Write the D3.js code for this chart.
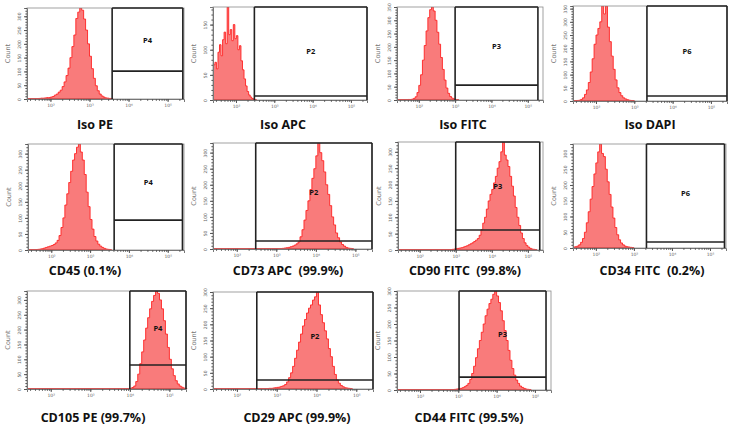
<!DOCTYPE html>
<html><head><meta charset="utf-8">
<script src="https://cdn.jsdelivr.net/npm/d3@7"></script>
<style>body{margin:0;background:#fff;} svg{display:block;}</style>
</head><body><svg id="c" width="732" height="430"></svg>
<script>
// ---------- data ----------
const titles = ["Iso PE","Iso APC","Iso FITC","Iso DAPI","CD45 (0.1%)","CD73 APC  (99.9%)","CD90 FITC  (99.8%)","CD34 FITC  (0.2%)","CD105 PE (99.7%)","CD29 APC (99.9%)","CD44 FITC (99.5%)"];
const gateNames = ["P4","P2","P3","P6","P4","P2","P3","P6","P4","P2","P3"];
const yMax = [330,185,350,360,330,330,330,330,330,300,300];
const gateStart = [3.58,2.48,3.0,3.33,3.62,2.48,3.0,3.33,4.0,2.5,3.02];   // log10 fluorescence
const gateEnd   = [5.39,5.42,5.28,5.42,5.38,5.42,5.33,5.38,5.42,5.42,5.29];
const gateLevel = [101,8,56,19,93,25,61,19,81,28,39];                    // counts
const decadeValues = [2,3,4,5];
const decadeLabels = ["10²","10³","10⁴","10⁵"];
const xDomain = [1.4,5.42];
const histStart = [1.70,1.41,1.70,1.50,1.55,3.15,2.90,1.40,3.95,2.80,2.90];
const histStep  = [0.05,0.04,0.05,0.05,0.05,0.05,0.05,0.05,0.05,0.05,0.05];
const hIsoPE   = [2,3,3,4,5,5,7,9,14,18,25,32,45,62,85,112,150,190,232,292,315,330,322,290,250,200,155,110,75,48,30,18,11,7,4,3,2,1];
const hIsoAPC  = [70,75,62,95,110,88,120,135,112,185,130,140,118,150,122,128,100,108,78,60,42,28,17,10,6,3,2,1];
const hIsoFITC = [2,2,3,6,12,28,55,95,150,205,260,310,340,350,335,300,255,210,160,115,75,45,25,13,7,4,2,1];
const hIsoDAPI = [2,3,6,12,25,42,70,110,160,215,250,275,300,360,330,360,280,225,170,120,80,50,32,20,12,8,5,3,2,1];
const hCD45    = [1,1,2,3,4,6,8,10,12,14,17,22,30,45,70,100,140,175,210,245,280,300,320,330,305,280,235,180,135,95,65,42,28,18,12,8,5,3,2,1];
const hCD73    = [2,3,4,5,7,9,12,16,22,38,60,90,120,150,185,220,250,290,330,300,275,240,200,170,135,100,75,50,35,22,14,9,5,3,2,1];
const hCD90    = [2,3,4,5,6,7,9,11,13,16,19,22,26,30,35,45,62,82,100,125,150,170,185,205,225,250,270,300,330,290,275,255,225,195,165,130,100,75,52,35,22,14,9,5,3,2,1];
const hCD34    = [3,4,6,10,18,30,50,80,115,155,195,235,270,305,330,300,290,250,210,170,130,95,65,42,26,16,10,6,4,3,2,1];
const hCD105   = [1,2,5,10,25,50,85,125,165,205,240,270,295,315,330,322,300,270,230,185,140,100,68,45,28,17,10,6,3,2];
const hCD29    = [2,2,3,4,5,6,8,10,14,22,35,50,70,95,120,145,170,195,215,235,250,260,275,285,300,260,230,205,180,155,125,100,70,45,28,18,11,7,4,3,2,1];
const hCD44    = [2,3,4,5,7,10,14,20,32,50,72,98,125,150,175,200,225,245,262,275,290,300,285,265,240,210,180,150,120,90,65,45,30,20,12,8,5,3,2,1];
const hists = [hIsoPE,hIsoAPC,hIsoFITC,hIsoDAPI,hCD45,hCD73,hCD90,hCD34,hCD105,hCD29,hCD44];

// ---------- layout ----------
const frames = [
 [27,184,8,99],[213,367,7,100],[397,543,7,100],[573,727,6,101],
 [28,184,144,250],[213,372,143,249],[398,543,142,250],[573,726,144,248],
 [27,186,291,389],[213,373,292,389],[397,551,291,390]];
const titlePos = [[95,125],[283,125],[463,125],[650,125],[85,271],[288,271],[465,271],[652,271],[93,418],[297,418],[469,418]];

const svg = d3.select("#c");
const minorLog = [];
for (let d=1; d<=5; d++) for (let k=1; k<=9; k++){ const v=Math.log10(k*Math.pow(10,d)); if (v>=xDomain[0] && v<=xDomain[1]) minorLog.push(v); }

hists.forEach((h,i)=>{
  const [x0,x1,y0,y1] = frames[i];
  const x = d3.scaleLinear().domain(xDomain).range([x0,x1]);
  const y = d3.scaleLinear().domain([0,yMax[i]]).range([y1,y0]);
  const g = svg.append("g");
  const cid = "clip"+i;
  svg.append("clipPath").attr("id",cid).append("rect")
     .attr("x",x0).attr("y",y0).attr("width",x1-x0).attr("height",y1-y0);

  const st = histStep[i];
  const pts = h.map((v,k)=>({lx:histStart[i]+k*st, v}));
  pts.push({lx:histStart[i]+h.length*st, v:0});
  const area = d3.area().x(d=>x(d.lx)).y0(y(0)).y1(d=>y(Math.min(d.v,yMax[i]))).curve(d3.curveStepAfter);
  const line = d3.line().x(d=>x(d.lx)).y(d=>y(Math.min(d.v,yMax[i]))).curve(d3.curveStepAfter);
  const hg = g.append("g").attr("clip-path","url(#"+cid+")");
  hg.append("path").datum(pts).attr("d",area).attr("fill","#f97b7b");
  hg.append("path").datum(pts).attr("d",line).attr("fill","none").attr("stroke","#ff2222").attr("stroke-width",0.9);
  // low-count tail along baseline
  g.append("line").attr("x1",x(xDomain[0])).attr("x2",x(histStart[i]+h.length*st))
    .attr("y1",y(0)-0.5).attr("y2",y(0)-0.5).attr("stroke","#ff3333").attr("stroke-width",1);

  // frame
  g.append("rect").attr("x",x0).attr("y",y0).attr("width",x1-x0).attr("height",y1-y0)
    .attr("fill","none").attr("stroke","#8a8a8a").attr("stroke-width",0.8);

  // axes
  const fontStyle = sel => sel.selectAll("text").attr("font-family","DejaVu Sans").attr("font-size",4.5).attr("fill","#666");
  const ax = g.append("g").attr("transform",`translate(0,${y1})`)
    .call(d3.axisBottom(x).tickValues(decadeValues).tickFormat((d,k)=>decadeLabels[k]).tickSize(3).tickPadding(2));
  ax.call(fontStyle); ax.select(".domain").attr("stroke","#777");
  ax.selectAll(".tick line").attr("stroke","#555");
  const axm = g.append("g").attr("transform",`translate(0,${y1})`)
    .call(d3.axisBottom(x).tickValues(minorLog).tickFormat("").tickSize(1.8));
  axm.select(".domain").remove(); axm.selectAll(".tick line").attr("stroke","#555");

  const yt = d3.range(0,yMax[i]+1,50);
  const ay = g.append("g").attr("transform",`translate(${x0},0)`)
    .call(d3.axisLeft(y).tickValues(yt).tickSize(3).tickPadding(2));
  ay.select(".domain").attr("stroke","#777");
  ay.selectAll(".tick line").attr("stroke","#555");
  ay.selectAll("text").attr("font-family","DejaVu Sans").attr("font-size",4.5).attr("fill","#666")
    .attr("text-anchor","middle").attr("x",null).attr("dy",null)
    .attr("transform","translate(-6.5,0) rotate(-90)");
  const aym = g.append("g").attr("transform",`translate(${x0},0)`)
    .call(d3.axisLeft(y).tickValues(d3.range(0,yMax[i]+1,10)).tickFormat("").tickSize(1.6));
  aym.select(".domain").remove(); aym.selectAll(".tick line").attr("stroke","#555");

  g.append("text").attr("transform",`translate(${x0-17},${(y0+y1)/2}) rotate(-90)`)
    .attr("text-anchor","middle").attr("font-family","DejaVu Sans").attr("font-size",6.5).attr("fill","#777").text("Count");

  // gate
  const gx0 = x(gateStart[i]), gx1 = x(gateEnd[i]), gy = y(gateLevel[i]);
  const gs = g.append("g").attr("stroke","#222").attr("stroke-width",1.6).attr("fill","none");
  gs.append("line").attr("x1",gx0).attr("x2",gx0).attr("y1",y0).attr("y2",y1);
  gs.append("line").attr("x1",gx1).attr("x2",gx1).attr("y1",y0).attr("y2",y1);
  gs.append("line").attr("x1",gx0).attr("x2",gx1).attr("y1",y0).attr("y2",y0);
  gs.append("line").attr("x1",gx0).attr("x2",gx1).attr("y1",gy).attr("y2",gy);
  g.append("text").attr("x",(gx0+gx1)/2).attr("y",(y0+gy)/2+3)
    .attr("text-anchor","middle").attr("font-family","Open Sans").attr("font-weight","bold")
    .attr("font-size",7.5).attr("fill","#111").text(gateNames[i]);

  // title
  svg.append("text").attr("x",titlePos[i][0]).attr("y",titlePos[i][1]).attr("dy","0.35em")
    .attr("text-anchor","middle").attr("font-family","Open Sans").attr("font-weight","bold")
    .attr("font-size",12.5).attr("fill","#111").style("white-space","pre").text(titles[i]);
});
</script></body></html>
